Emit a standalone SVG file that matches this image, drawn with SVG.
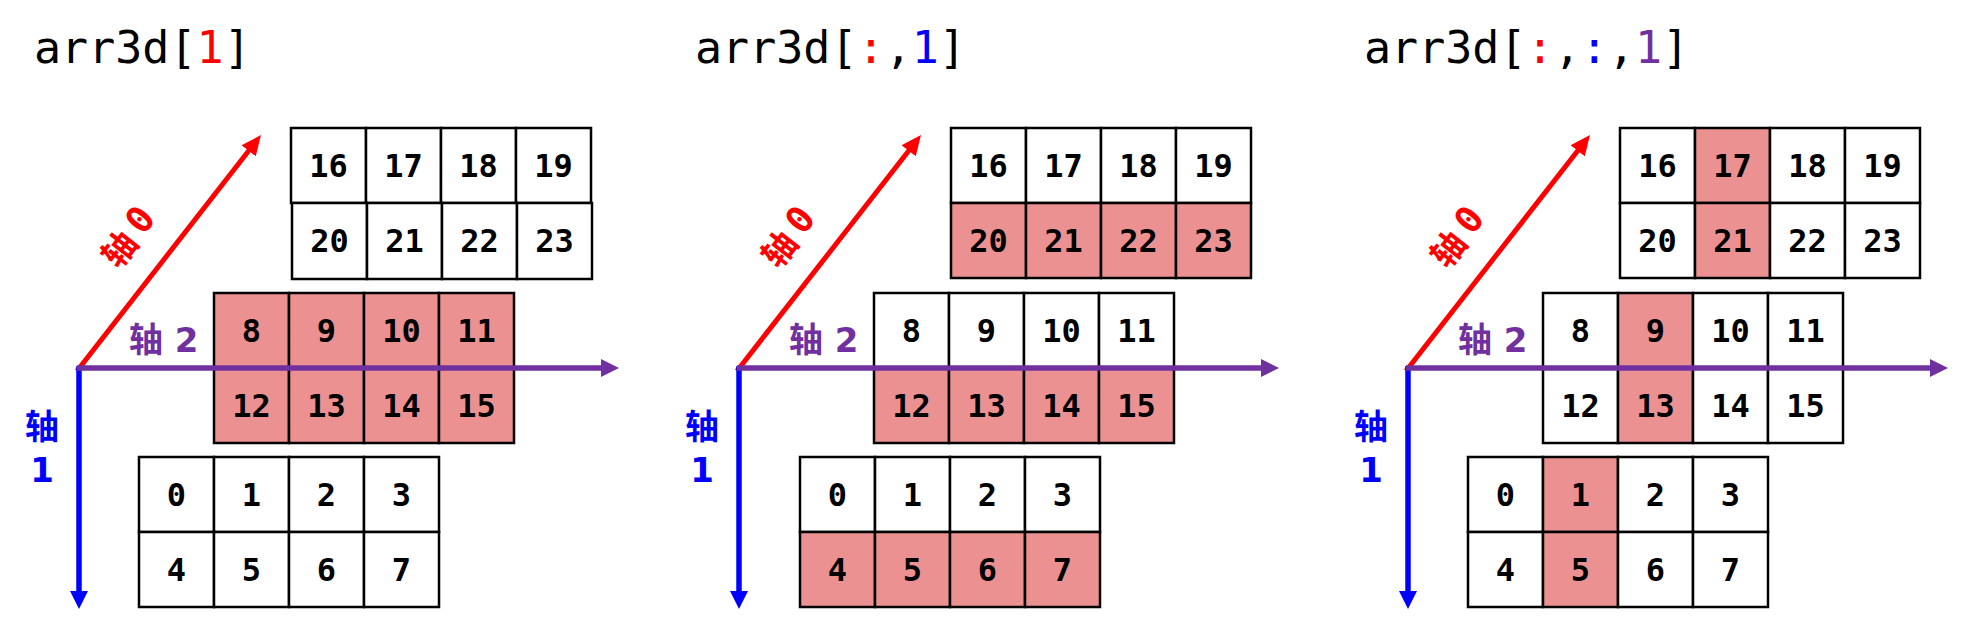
<svg xmlns="http://www.w3.org/2000/svg" width="1968" height="629" viewBox="0 0 1968 629">
<style>
.bg{fill:#fff}
.cell{fill:#fff;stroke:#000;stroke-width:2.5}
.hl{fill:#EC9191}
.num{font-family:"DejaVu Sans Mono","Liberation Mono",monospace;font-weight:bold;font-size:32px;text-anchor:middle;fill:#000}
.title{font-family:"DejaVu Sans Mono","Liberation Mono",monospace;font-size:45px;fill:#000}
.ax{font-family:"Noto Sans CJK SC","DejaVu Sans",sans-serif;font-weight:bold;font-size:34px}
.dg{font-family:"DejaVu Sans","Noto Sans",sans-serif;font-weight:bold}
.dz{font-family:"DejaVu Sans Mono",monospace;font-weight:bold;font-size:37px}
.r{fill:#FF0000}.b{fill:#0000FF}.p{fill:#7030A0}
.lr{stroke:#FF0000;stroke-width:5;fill:none}
.lb{stroke:#0000FF;stroke-width:5.5;fill:none}
.lp{stroke:#7030A0;stroke-width:5.5;fill:none}
</style>
<defs>
<marker id="hr" markerUnits="userSpaceOnUse" markerWidth="20" markerHeight="20" refX="8" refY="9" orient="auto" viewBox="0 0 20 18"><path d="M0,0 L20,9 L0,18 z" fill="#FF0000"/></marker>
<marker id="hb" markerUnits="userSpaceOnUse" markerWidth="18" markerHeight="18" refX="6" refY="9" orient="auto" viewBox="0 0 18 18"><path d="M0,0 L18,9 L0,18 z" fill="#0000FF"/></marker>
<marker id="hp" markerUnits="userSpaceOnUse" markerWidth="18" markerHeight="18" refX="6" refY="9" orient="auto" viewBox="0 0 18 18"><path d="M0,0 L18,9 L0,18 z" fill="#7030A0"/></marker>
</defs>
<rect class="bg" x="0" y="0" width="1968" height="629"/>

<!-- Panel 1 -->
<g id="panel1">
<text class="title" x="34" y="63">arr3d[<tspan class="r">1</tspan>]</text>
<g id="p1-top" transform="translate(291,128)">
<rect class="cell" x="0" y="0" width="75" height="75"/><rect class="cell" x="75" y="0" width="75" height="75"/><rect class="cell" x="150" y="0" width="75" height="75"/><rect class="cell" x="225" y="0" width="75" height="75"/>
<rect class="cell" x="1" y="75" width="75" height="76"/><rect class="cell" x="76" y="75" width="75" height="76"/><rect class="cell" x="151" y="75" width="75" height="76"/><rect class="cell" x="226" y="75" width="75" height="76"/>
<text class="num" x="37.5" y="49">16</text><text class="num" x="112.5" y="49">17</text><text class="num" x="187.5" y="49">18</text><text class="num" x="262.5" y="49">19</text>
<text class="num" x="38.5" y="124">20</text><text class="num" x="113.5" y="124">21</text><text class="num" x="188.5" y="124">22</text><text class="num" x="263.5" y="124">23</text>
</g>
<g id="p1-mid" transform="translate(214,293)">
<rect class="cell hl" x="0" y="0" width="75" height="75"/><rect class="cell hl" x="75" y="0" width="75" height="75"/><rect class="cell hl" x="150" y="0" width="75" height="75"/><rect class="cell hl" x="225" y="0" width="75" height="75"/>
<rect class="cell hl" x="0" y="75" width="75" height="75"/><rect class="cell hl" x="75" y="75" width="75" height="75"/><rect class="cell hl" x="150" y="75" width="75" height="75"/><rect class="cell hl" x="225" y="75" width="75" height="75"/>
<text class="num" x="37.5" y="49">8</text><text class="num" x="112.5" y="49">9</text><text class="num" x="187.5" y="49">10</text><text class="num" x="262.5" y="49">11</text>
<text class="num" x="37.5" y="124">12</text><text class="num" x="112.5" y="124">13</text><text class="num" x="187.5" y="124">14</text><text class="num" x="262.5" y="124">15</text>
</g>
<g id="p1-bot" transform="translate(139,457)">
<rect class="cell" x="0" y="0" width="75" height="75"/><rect class="cell" x="75" y="0" width="75" height="75"/><rect class="cell" x="150" y="0" width="75" height="75"/><rect class="cell" x="225" y="0" width="75" height="75"/>
<rect class="cell" x="0" y="75" width="75" height="75"/><rect class="cell" x="75" y="75" width="75" height="75"/><rect class="cell" x="150" y="75" width="75" height="75"/><rect class="cell" x="225" y="75" width="75" height="75"/>
<text class="num" x="37.5" y="49">0</text><text class="num" x="112.5" y="49">1</text><text class="num" x="187.5" y="49">2</text><text class="num" x="262.5" y="49">3</text>
<text class="num" x="37.5" y="124">4</text><text class="num" x="112.5" y="124">5</text><text class="num" x="187.5" y="124">6</text><text class="num" x="262.5" y="124">7</text>
</g>
<g id="p1-axes">
<line class="lr" x1="77" y1="371" x2="253.6" y2="144.5" marker-end="url(#hr)"/>
<line class="lb" x1="79" y1="366" x2="79" y2="597" marker-end="url(#hb)"/>
<line class="lp" x1="77" y1="368" x2="607" y2="368" marker-end="url(#hp)"/>
<text class="ax r" transform="translate(127,236) rotate(-52)" text-anchor="middle" dominant-baseline="central">轴 <tspan class="dz">0</tspan></text>
<text class="ax p" x="129" y="352">轴 <tspan class="dg" dx="4">2</tspan></text>
<text class="ax b" x="42" y="439" text-anchor="middle">轴</text>
<text class="ax b dg" x="42" y="482" text-anchor="middle">1</text>
</g>
</g>

<!-- Panel 2 -->
<g id="panel2" transform="translate(660,0)">
<text class="title" x="35" y="63">arr3d[<tspan class="r">:</tspan>,<tspan class="b">1</tspan>]</text>
<g id="p2-top" transform="translate(291,128)">
<rect class="cell" x="0" y="0" width="75" height="75"/><rect class="cell" x="75" y="0" width="75" height="75"/><rect class="cell" x="150" y="0" width="75" height="75"/><rect class="cell" x="225" y="0" width="75" height="75"/>
<rect class="cell hl" x="0" y="75" width="75" height="75"/><rect class="cell hl" x="75" y="75" width="75" height="75"/><rect class="cell hl" x="150" y="75" width="75" height="75"/><rect class="cell hl" x="225" y="75" width="75" height="75"/>
<text class="num" x="37.5" y="49">16</text><text class="num" x="112.5" y="49">17</text><text class="num" x="187.5" y="49">18</text><text class="num" x="262.5" y="49">19</text>
<text class="num" x="37.5" y="124">20</text><text class="num" x="112.5" y="124">21</text><text class="num" x="187.5" y="124">22</text><text class="num" x="262.5" y="124">23</text>
</g>
<g id="p2-mid" transform="translate(214,293)">
<rect class="cell" x="0" y="0" width="75" height="75"/><rect class="cell" x="75" y="0" width="75" height="75"/><rect class="cell" x="150" y="0" width="75" height="75"/><rect class="cell" x="225" y="0" width="75" height="75"/>
<rect class="cell hl" x="0" y="75" width="75" height="75"/><rect class="cell hl" x="75" y="75" width="75" height="75"/><rect class="cell hl" x="150" y="75" width="75" height="75"/><rect class="cell hl" x="225" y="75" width="75" height="75"/>
<text class="num" x="37.5" y="49">8</text><text class="num" x="112.5" y="49">9</text><text class="num" x="187.5" y="49">10</text><text class="num" x="262.5" y="49">11</text>
<text class="num" x="37.5" y="124">12</text><text class="num" x="112.5" y="124">13</text><text class="num" x="187.5" y="124">14</text><text class="num" x="262.5" y="124">15</text>
</g>
<g id="p2-bot" transform="translate(140,457)">
<rect class="cell" x="0" y="0" width="75" height="75"/><rect class="cell" x="75" y="0" width="75" height="75"/><rect class="cell" x="150" y="0" width="75" height="75"/><rect class="cell" x="225" y="0" width="75" height="75"/>
<rect class="cell hl" x="0" y="75" width="75" height="75"/><rect class="cell hl" x="75" y="75" width="75" height="75"/><rect class="cell hl" x="150" y="75" width="75" height="75"/><rect class="cell hl" x="225" y="75" width="75" height="75"/>
<text class="num" x="37.5" y="49">0</text><text class="num" x="112.5" y="49">1</text><text class="num" x="187.5" y="49">2</text><text class="num" x="262.5" y="49">3</text>
<text class="num" x="37.5" y="124">4</text><text class="num" x="112.5" y="124">5</text><text class="num" x="187.5" y="124">6</text><text class="num" x="262.5" y="124">7</text>
</g>
<g id="p2-axes">
<line class="lr" x1="77" y1="371" x2="253.6" y2="144.5" marker-end="url(#hr)"/>
<line class="lb" x1="79" y1="366" x2="79" y2="597" marker-end="url(#hb)"/>
<line class="lp" x1="77" y1="368" x2="607" y2="368" marker-end="url(#hp)"/>
<text class="ax r" transform="translate(127,236) rotate(-52)" text-anchor="middle" dominant-baseline="central">轴 <tspan class="dz">0</tspan></text>
<text class="ax p" x="129" y="352">轴 <tspan class="dg" dx="4">2</tspan></text>
<text class="ax b" x="42" y="439" text-anchor="middle">轴</text>
<text class="ax b dg" x="42" y="482" text-anchor="middle">1</text>
</g>
</g>

<!-- Panel 3 -->
<g id="panel3" transform="translate(1329,0)">
<text class="title" x="35" y="63">arr3d[<tspan class="r">:</tspan>,<tspan class="b">:</tspan>,<tspan class="p">1</tspan>]</text>
<g id="p3-top" transform="translate(291,128)">
<rect class="cell" x="0" y="0" width="75" height="75"/><rect class="cell hl" x="75" y="0" width="75" height="75"/><rect class="cell" x="150" y="0" width="75" height="75"/><rect class="cell" x="225" y="0" width="75" height="75"/>
<rect class="cell" x="0" y="75" width="75" height="75"/><rect class="cell hl" x="75" y="75" width="75" height="75"/><rect class="cell" x="150" y="75" width="75" height="75"/><rect class="cell" x="225" y="75" width="75" height="75"/>
<text class="num" x="37.5" y="49">16</text><text class="num" x="112.5" y="49">17</text><text class="num" x="187.5" y="49">18</text><text class="num" x="262.5" y="49">19</text>
<text class="num" x="37.5" y="124">20</text><text class="num" x="112.5" y="124">21</text><text class="num" x="187.5" y="124">22</text><text class="num" x="262.5" y="124">23</text>
</g>
<g id="p3-mid" transform="translate(214,293)">
<rect class="cell" x="0" y="0" width="75" height="75"/><rect class="cell hl" x="75" y="0" width="75" height="75"/><rect class="cell" x="150" y="0" width="75" height="75"/><rect class="cell" x="225" y="0" width="75" height="75"/>
<rect class="cell" x="0" y="75" width="75" height="75"/><rect class="cell hl" x="75" y="75" width="75" height="75"/><rect class="cell" x="150" y="75" width="75" height="75"/><rect class="cell" x="225" y="75" width="75" height="75"/>
<text class="num" x="37.5" y="49">8</text><text class="num" x="112.5" y="49">9</text><text class="num" x="187.5" y="49">10</text><text class="num" x="262.5" y="49">11</text>
<text class="num" x="37.5" y="124">12</text><text class="num" x="112.5" y="124">13</text><text class="num" x="187.5" y="124">14</text><text class="num" x="262.5" y="124">15</text>
</g>
<g id="p3-bot" transform="translate(139,457)">
<rect class="cell" x="0" y="0" width="75" height="75"/><rect class="cell hl" x="75" y="0" width="75" height="75"/><rect class="cell" x="150" y="0" width="75" height="75"/><rect class="cell" x="225" y="0" width="75" height="75"/>
<rect class="cell" x="0" y="75" width="75" height="75"/><rect class="cell hl" x="75" y="75" width="75" height="75"/><rect class="cell" x="150" y="75" width="75" height="75"/><rect class="cell" x="225" y="75" width="75" height="75"/>
<text class="num" x="37.5" y="49">0</text><text class="num" x="112.5" y="49">1</text><text class="num" x="187.5" y="49">2</text><text class="num" x="262.5" y="49">3</text>
<text class="num" x="37.5" y="124">4</text><text class="num" x="112.5" y="124">5</text><text class="num" x="187.5" y="124">6</text><text class="num" x="262.5" y="124">7</text>
</g>
<g id="p3-axes">
<line class="lr" x1="77" y1="371" x2="253.6" y2="144.5" marker-end="url(#hr)"/>
<line class="lb" x1="79" y1="366" x2="79" y2="597" marker-end="url(#hb)"/>
<line class="lp" x1="77" y1="368" x2="607" y2="368" marker-end="url(#hp)"/>
<text class="ax r" transform="translate(127,236) rotate(-52)" text-anchor="middle" dominant-baseline="central">轴 <tspan class="dz">0</tspan></text>
<text class="ax p" x="129" y="352">轴 <tspan class="dg" dx="4">2</tspan></text>
<text class="ax b" x="42" y="439" text-anchor="middle">轴</text>
<text class="ax b dg" x="42" y="482" text-anchor="middle">1</text>
</g>
</g>
</svg>
